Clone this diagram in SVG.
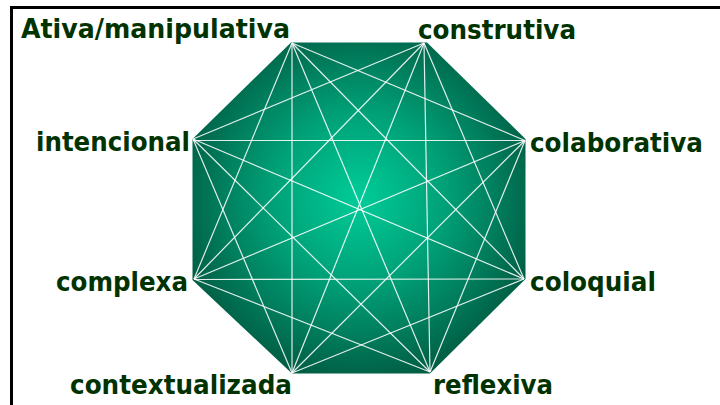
<svg xmlns="http://www.w3.org/2000/svg" width="720" height="405" viewBox="0 0 720 405">
<defs>
<radialGradient id="g" cx="0.5" cy="0.47" r="0.58">
<stop offset="0" stop-color="#00CC99"/>
<stop offset="0.45" stop-color="#00A077"/>
<stop offset="1" stop-color="#005840"/>
</radialGradient>
<style>
.lbl{font-family:"DejaVu Sans","Liberation Sans",sans-serif;font-weight:bold;font-size:26px;fill:#003300}
.c line{stroke:#FFFFFF;stroke-opacity:0.88;stroke-width:1.2}
</style>
</defs>
<rect width="720" height="405" fill="#FFFFFF"/>
<path d="M11.5 405 V7.5 H720" fill="none" stroke="#000000" stroke-width="3"/>
<polygon points="291,42.5 427,42.5 525.5,139 525.5,279 430,373.5 292,373.5 192.5,280 192.5,139" fill="url(#g)"/>
<g class="c" id="connectors">
<line x1="292" y1="43" x2="525" y2="140.5"/>
<line x1="292" y1="43" x2="524" y2="279"/>
<line x1="292" y1="43" x2="430" y2="372"/>
<line x1="292" y1="43" x2="292" y2="373"/>
<line x1="292" y1="43" x2="194" y2="279"/>
<line x1="424" y1="43" x2="524" y2="279"/>
<line x1="424" y1="43" x2="430" y2="372"/>
<line x1="424" y1="43" x2="292" y2="373"/>
<line x1="424" y1="43" x2="194" y2="279"/>
<line x1="424" y1="43" x2="193" y2="139"/>
<line x1="525" y1="140.5" x2="430" y2="372"/>
<line x1="525" y1="140.5" x2="292" y2="373"/>
<line x1="525" y1="140.5" x2="194" y2="279"/>
<line x1="525" y1="140.5" x2="193" y2="140.5"/>
<line x1="524" y1="279" x2="292" y2="373"/>
<line x1="524" y1="279" x2="194" y2="279.5"/>
<line x1="524" y1="279" x2="193" y2="139"/>
<line x1="430" y1="372" x2="194" y2="279"/>
<line x1="430" y1="372" x2="193" y2="139"/>
<line x1="292" y1="373" x2="193" y2="139"/>
</g>
<g id="n-ativa"><text class="lbl" x="21" y="38" textLength="269" lengthAdjust="spacingAndGlyphs">Ativa/manipulativa</text></g>
<g id="n-construtiva"><text class="lbl" x="418" y="39" textLength="158" lengthAdjust="spacingAndGlyphs">construtiva</text></g>
<g id="n-intencional"><text class="lbl" x="36" y="151" textLength="154" lengthAdjust="spacingAndGlyphs">intencional</text></g>
<g id="n-colaborativa"><text class="lbl" x="530" y="151.5" textLength="173" lengthAdjust="spacingAndGlyphs">colaborativa</text></g>
<g id="n-complexa"><text class="lbl" x="56" y="290.5" textLength="132" lengthAdjust="spacingAndGlyphs">complexa</text></g>
<g id="n-coloquial"><text class="lbl" x="530" y="290.5" textLength="126" lengthAdjust="spacingAndGlyphs">coloquial</text></g>
<g id="n-contextualizada"><text class="lbl" x="70" y="394" textLength="222" lengthAdjust="spacingAndGlyphs">contextualizada</text></g>
<g id="n-reflexiva"><text class="lbl" x="433" y="394" textLength="120" lengthAdjust="spacingAndGlyphs">reflexiva</text></g>
</svg>
